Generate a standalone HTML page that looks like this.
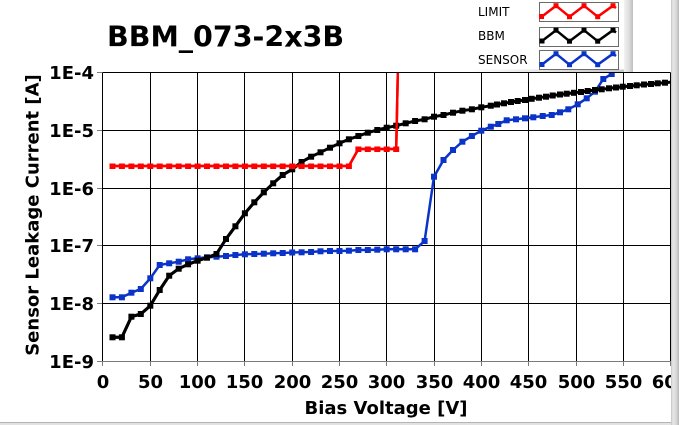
<!DOCTYPE html>
<html><head><meta charset="utf-8"><style>
html,body{margin:0;padding:0;background:#fff;}
body{width:679px;height:425px;overflow:hidden;}
svg{display:block;}
text{font-family:"DejaVu Sans","Liberation Sans",sans-serif;}
</style></head><body>
<svg width="679" height="425" viewBox="0 0 679 425" xmlns="http://www.w3.org/2000/svg">
<defs>
<clipPath id="pc"><rect x="103" y="73" width="568" height="289"/></clipPath>
<linearGradient id="rb" x1="0" x2="1" y1="0" y2="0">
<stop offset="0" stop-color="#c4c4c4"/><stop offset="0.25" stop-color="#e6e6e6"/><stop offset="0.7" stop-color="#d6d6d6"/><stop offset="1" stop-color="#b4b4b4"/>
</linearGradient>
<linearGradient id="ls" x1="0" x2="1" y1="0" y2="0">
<stop offset="0" stop-color="#f2f2f2"/><stop offset="0.6" stop-color="#dcdcdc"/><stop offset="1" stop-color="#bdbdbd"/>
</linearGradient>
<linearGradient id="lb" x1="0" x2="1" y1="0" y2="0">
<stop offset="0" stop-color="#ffffff"/><stop offset="0.5" stop-color="#e0e0e0"/><stop offset="1" stop-color="#c4c4c4"/>
</linearGradient>
</defs>

<!-- title -->
<text x="107" y="46.5" font-size="28.5" font-weight="bold" fill="#000">BBM_073-2x3B</text>

<!-- legend -->
<rect x="470" y="69.5" width="163" height="2.5" fill="url(#lb)"/>
<rect x="624" y="0" width="9" height="72" fill="url(#ls)"/>
<text x="478" y="16" font-size="12" fill="#000">LIMIT</text>
<text x="478" y="40" font-size="12" fill="#000">BBM</text>
<text x="478" y="64" font-size="12" fill="#000">SENSOR</text>
<g fill="#fff" stroke="#6a6a6a" stroke-width="1">
<rect x="539.5" y="2.5" width="79" height="19"/>
<rect x="539.5" y="27.5" width="79" height="19"/>
<rect x="539.5" y="50.5" width="79" height="19"/>
</g>
<g fill="none" stroke-width="2.5" stroke-linejoin="round">
<polyline stroke="#ff0000" points="541.7,16.7 556,5.7 569.5,16.7 584,5.7 597.7,16.7 613,5.7 616,8"/>
<polyline stroke="#000" points="541.7,41.2 556,30.2 569.5,41.2 584,30.2 597.7,41.2 613,30.2 616,32.5"/>
<polyline stroke="#0a33c8" points="541.7,64.7 556,53.7 569.5,64.7 584,53.7 597.7,64.7 613,53.7 616,56"/>
</g>
<g fill="#ff0000"><rect x="539" y="14" width="5" height="5"/><rect x="553.5" y="3.2" width="5" height="5"/><rect x="567" y="14.2" width="5" height="5"/><rect x="581.5" y="3.2" width="5" height="5"/><rect x="595.2" y="14.2" width="5" height="5"/><rect x="610.5" y="3.2" width="5" height="5"/></g>
<g fill="#000"><rect x="539.5" y="38.5" width="5" height="5"/><rect x="553.5" y="27.7" width="5" height="5"/><rect x="567" y="38.7" width="5" height="5"/><rect x="581.5" y="27.7" width="5" height="5"/><rect x="595.2" y="38.7" width="5" height="5"/><rect x="610.5" y="27.7" width="5" height="5"/></g>
<g fill="#0a33c8"><rect x="539.5" y="62" width="5" height="5"/><rect x="553.5" y="51.2" width="5" height="5"/><rect x="567" y="62.2" width="5" height="5"/><rect x="581.5" y="51.2" width="5" height="5"/><rect x="595.2" y="62.2" width="5" height="5"/><rect x="610.5" y="51.2" width="5" height="5"/></g>

<!-- grid -->
<g stroke="#000" stroke-width="1" shape-rendering="crispEdges">
<line x1="102.5" y1="72.5" x2="670.5" y2="72.5"/>
<line x1="102.5" y1="130.5" x2="670.5" y2="130.5"/>
<line x1="102.5" y1="188.5" x2="670.5" y2="188.5"/>
<line x1="102.5" y1="245.5" x2="670.5" y2="245.5"/>
<line x1="102.5" y1="303.5" x2="670.5" y2="303.5"/>
<line x1="102.5" y1="72.5" x2="102.5" y2="361.5"/>
<line x1="150.5" y1="72.5" x2="150.5" y2="361.5"/>
<line x1="197.5" y1="72.5" x2="197.5" y2="361.5"/>
<line x1="244.5" y1="72.5" x2="244.5" y2="361.5"/>
<line x1="292.5" y1="72.5" x2="292.5" y2="361.5"/>
<line x1="339.5" y1="72.5" x2="339.5" y2="361.5"/>
<line x1="386.5" y1="72.5" x2="386.5" y2="361.5"/>
<line x1="434.5" y1="72.5" x2="434.5" y2="361.5"/>
<line x1="481.5" y1="72.5" x2="481.5" y2="361.5"/>
<line x1="528.5" y1="72.5" x2="528.5" y2="361.5"/>
<line x1="576.5" y1="72.5" x2="576.5" y2="361.5"/>
<line x1="623.5" y1="72.5" x2="623.5" y2="361.5"/>
<line x1="670.5" y1="72.5" x2="670.5" y2="361.5"/>
</g>
<g stroke="#7a7a7a" stroke-width="1" shape-rendering="crispEdges">
<line x1="102.5" y1="361.5" x2="670.5" y2="361.5"/>
<line x1="97" y1="72.5" x2="102" y2="72.5"/>
<line x1="97" y1="130.5" x2="102" y2="130.5"/>
<line x1="97" y1="188.5" x2="102" y2="188.5"/>
<line x1="97" y1="245.5" x2="102" y2="245.5"/>
<line x1="97" y1="303.5" x2="102" y2="303.5"/>
<line x1="97" y1="361.5" x2="102" y2="361.5"/>
<line x1="102.5" y1="362" x2="102.5" y2="366"/>
<line x1="150.5" y1="362" x2="150.5" y2="366"/>
<line x1="197.5" y1="362" x2="197.5" y2="366"/>
<line x1="244.5" y1="362" x2="244.5" y2="366"/>
<line x1="292.5" y1="362" x2="292.5" y2="366"/>
<line x1="339.5" y1="362" x2="339.5" y2="366"/>
<line x1="386.5" y1="362" x2="386.5" y2="366"/>
<line x1="434.5" y1="362" x2="434.5" y2="366"/>
<line x1="481.5" y1="362" x2="481.5" y2="366"/>
<line x1="528.5" y1="362" x2="528.5" y2="366"/>
<line x1="576.5" y1="362" x2="576.5" y2="366"/>
<line x1="623.5" y1="362" x2="623.5" y2="366"/>
<line x1="670.5" y1="362" x2="670.5" y2="366"/>
</g>

<!-- y labels -->
<g font-size="18" font-weight="bold" fill="#000" text-anchor="end">
<text x="94" y="79">1E-4</text>
<text x="94" y="137">1E-5</text>
<text x="94" y="195">1E-6</text>
<text x="94" y="252">1E-7</text>
<text x="94" y="310">1E-8</text>
<text x="94" y="368">1E-9</text>
</g>
<!-- x labels -->
<g font-size="18" font-weight="bold" fill="#000" text-anchor="middle">
<text x="103" y="388">0</text>
<text x="150.5" y="388">50</text>
<text x="197.5" y="388">100</text>
<text x="244.5" y="388">150</text>
<text x="292.5" y="388">200</text>
<text x="339.5" y="388">250</text>
<text x="386.5" y="388">300</text>
<text x="434.5" y="388">350</text>
<text x="481.5" y="388">400</text>
<text x="528.5" y="388">450</text>
<text x="576.5" y="388">500</text>
<text x="623.5" y="388">550</text>
<text x="670.5" y="388">600</text>
</g>
<text x="386" y="414" font-size="18" font-weight="bold" fill="#000" text-anchor="middle">Bias Voltage [V]</text>
<text transform="translate(38.5,215) rotate(-90)" font-size="18" font-weight="bold" fill="#000" text-anchor="middle">Sensor Leakage Current [A]</text>

<!-- data -->
<g clip-path="url(#pc)">
<!-- SENSOR -->
<polyline fill="none" stroke="#0a33c8" stroke-width="2.5" stroke-linejoin="round" points="112.5,297.3 121.9,297.3 131.4,292.7 140.8,289 150.3,278.3 159.7,265 169.2,263.3 178.7,261.7 188.1,259.3 197.6,258.3 207,257.3 216.5,256.7 226,256 235.4,255 244.9,254.3 254.3,254 263.8,253.7 273.2,253.3 282.7,253 292.2,252.5 301.6,252.3 311.1,252 320.5,251.3 330,251 339.5,251 348.9,250.7 358.4,250 367.8,250 377.3,249.7 386.7,249.3 396.2,249.3 405.7,249.3 415.1,249.3 424.6,241 434,176.7 443.5,160 453,150 462.4,141.7 471.9,136 481.3,130.7 490.8,126.7 498.3,124 506.7,120.3 516,119.3 525,118.3 533.3,117.3 542.7,116 551.7,115 560,112.3 568.3,109.3 577.7,104.3 586.7,98.3 595,91.7 603.3,79 611.7,74 620,66"/>
<g fill="#0a33c8" id="bm"></g>
<!-- BBM -->
<polyline fill="none" stroke="#000" stroke-width="3" stroke-linejoin="round" points="112.5,337.3 121.9,337.3 131.4,316.7 140.8,314 150.3,305.7 159.7,290 169.2,275.7 178.7,268.7 188.1,264.3 197.6,260.7 207,257.7 216.5,254 226,239 235.4,226.3 244.9,213.3 254.3,202.3 263.8,192.3 273.2,183.3 282.7,175 292.2,169.3 301.6,162 311.1,156.7 320.5,152.3 330,147.7 339.5,143.3 348.9,139.3 358.4,136 367.8,132.7 377.3,130 386.7,127.7 396.2,125.7 405.7,123.3 415.1,121 424.6,119.3 434,116.7 443.5,115 453,112.7 462.4,110.7 471.9,109.3 481.3,107.3 490.8,105.7 497,104.5 504,103.3 511,102 517.7,101 525,100 531.7,98.8 539,97.7 546,96.7 552.7,95.5 560,94.5 566.7,93.7 574,92.8 581,92 587.7,91 595,90 601.7,89.3 609,88.3 616,87.5 622.7,86.7 630,86 636.7,85.3 644,84.5 651,84 657.7,83.3 665,82.7 672,82"/>
<!-- LIMIT -->
<polyline fill="none" stroke="#ff0000" stroke-width="2.5" stroke-linejoin="round" points="112.5,166 348.9,166 358.4,149 396.2,149 405.7,-300"/>
</g>
<g clip-path="url(#pc)">
<g fill="#0a33c8">
<rect x="109.5" y="294.3" width="6" height="6"/><rect x="118.9" y="294.3" width="6" height="6"/><rect x="128.4" y="289.7" width="6" height="6"/><rect x="137.8" y="286" width="6" height="6"/><rect x="147.3" y="275.3" width="6" height="6"/><rect x="156.7" y="262" width="6" height="6"/><rect x="166.2" y="260.3" width="6" height="6"/><rect x="175.7" y="258.7" width="6" height="6"/><rect x="185.1" y="256.3" width="6" height="6"/><rect x="194.6" y="255.3" width="6" height="6"/><rect x="204" y="254.3" width="6" height="6"/><rect x="213.5" y="253.7" width="6" height="6"/><rect x="223" y="253" width="6" height="6"/><rect x="232.4" y="252" width="6" height="6"/><rect x="241.9" y="251.3" width="6" height="6"/><rect x="251.3" y="251" width="6" height="6"/><rect x="260.8" y="250.7" width="6" height="6"/><rect x="270.2" y="250.3" width="6" height="6"/><rect x="279.7" y="250" width="6" height="6"/><rect x="289.2" y="249.5" width="6" height="6"/><rect x="298.6" y="249.3" width="6" height="6"/><rect x="308.1" y="249" width="6" height="6"/><rect x="317.5" y="248.3" width="6" height="6"/><rect x="327" y="248" width="6" height="6"/><rect x="336.5" y="248" width="6" height="6"/><rect x="345.9" y="247.7" width="6" height="6"/><rect x="355.4" y="247" width="6" height="6"/><rect x="364.8" y="247" width="6" height="6"/><rect x="374.3" y="246.7" width="6" height="6"/><rect x="383.7" y="246.3" width="6" height="6"/><rect x="393.2" y="246.3" width="6" height="6"/><rect x="402.7" y="246.3" width="6" height="6"/><rect x="412.1" y="246.3" width="6" height="6"/><rect x="421.6" y="238" width="6" height="6"/><rect x="431" y="173.7" width="6" height="6"/><rect x="440.5" y="157" width="6" height="6"/><rect x="450" y="147" width="6" height="6"/><rect x="459.4" y="138.7" width="6" height="6"/><rect x="468.9" y="133" width="6" height="6"/><rect x="478.3" y="127.7" width="6" height="6"/><rect x="487.8" y="123.7" width="6" height="6"/><rect x="495.3" y="121" width="6" height="6"/><rect x="503.7" y="117.3" width="6" height="6"/><rect x="513" y="116.3" width="6" height="6"/><rect x="522" y="115.3" width="6" height="6"/><rect x="530.3" y="114.3" width="6" height="6"/><rect x="539.7" y="113" width="6" height="6"/><rect x="548.7" y="112" width="6" height="6"/><rect x="557" y="109.3" width="6" height="6"/><rect x="565.3" y="106.3" width="6" height="6"/><rect x="574.7" y="101.3" width="6" height="6"/><rect x="583.7" y="95.3" width="6" height="6"/><rect x="592" y="88.7" width="6" height="6"/><rect x="600.3" y="76" width="6" height="6"/><rect x="608.7" y="71" width="6" height="6"/>
</g>
</g>
<!-- redraw black and red on top of blue markers -->
<g clip-path="url(#pc)">
<polyline fill="none" stroke="#000" stroke-width="3" stroke-linejoin="round" points="112.5,337.3 121.9,337.3 131.4,316.7 140.8,314 150.3,305.7 159.7,290 169.2,275.7 178.7,268.7 188.1,264.3 197.6,260.7 207,257.7 216.5,254 226,239 235.4,226.3 244.9,213.3 254.3,202.3 263.8,192.3 273.2,183.3 282.7,175 292.2,169.3 301.6,162 311.1,156.7"/>
<g fill="#000">
<rect x="109.5" y="334.3" width="6" height="6"/><rect x="118.9" y="334.3" width="6" height="6"/><rect x="128.4" y="313.7" width="6" height="6"/><rect x="137.8" y="311" width="6" height="6"/><rect x="147.3" y="302.7" width="6" height="6"/><rect x="156.7" y="287" width="6" height="6"/><rect x="166.2" y="272.7" width="6" height="6"/><rect x="175.7" y="265.7" width="6" height="6"/><rect x="185.1" y="261.3" width="6" height="6"/><rect x="194.6" y="257.7" width="6" height="6"/><rect x="204" y="254.7" width="6" height="6"/><rect x="213.5" y="251" width="6" height="6"/><rect x="223" y="236" width="6" height="6"/><rect x="232.4" y="223.3" width="6" height="6"/><rect x="241.9" y="210.3" width="6" height="6"/><rect x="251.3" y="199.3" width="6" height="6"/><rect x="260.8" y="189.3" width="6" height="6"/><rect x="270.2" y="180.3" width="6" height="6"/><rect x="279.7" y="172" width="6" height="6"/><rect x="289.2" y="166.3" width="6" height="6"/><rect x="298.6" y="159" width="6" height="6"/><rect x="308.1" y="153.7" width="6" height="6"/><rect x="317.5" y="149.3" width="6" height="6"/><rect x="327" y="144.7" width="6" height="6"/><rect x="336.5" y="140.3" width="6" height="6"/><rect x="345.9" y="136.3" width="6" height="6"/><rect x="355.4" y="133" width="6" height="6"/><rect x="364.8" y="129.7" width="6" height="6"/><rect x="374.3" y="127" width="6" height="6"/><rect x="383.7" y="124.7" width="6" height="6"/><rect x="393.2" y="122.7" width="6" height="6"/><rect x="402.7" y="120.3" width="6" height="6"/><rect x="412.1" y="118" width="6" height="6"/><rect x="421.6" y="116.3" width="6" height="6"/><rect x="431" y="113.7" width="6" height="6"/><rect x="440.5" y="112" width="6" height="6"/><rect x="450" y="109.7" width="6" height="6"/><rect x="459.4" y="107.7" width="6" height="6"/><rect x="468.9" y="106.3" width="6" height="6"/><rect x="478.3" y="104.3" width="6" height="6"/><rect x="487.8" y="102.7" width="6" height="6"/><rect x="494" y="101.5" width="6" height="6"/><rect x="501" y="100.3" width="6" height="6"/><rect x="508" y="99" width="6" height="6"/><rect x="514.7" y="98" width="6" height="6"/><rect x="522" y="97" width="6" height="6"/><rect x="528.7" y="95.8" width="6" height="6"/><rect x="536" y="94.7" width="6" height="6"/><rect x="543" y="93.7" width="6" height="6"/><rect x="549.7" y="92.5" width="6" height="6"/><rect x="557" y="91.5" width="6" height="6"/><rect x="563.7" y="90.7" width="6" height="6"/><rect x="571" y="89.8" width="6" height="6"/><rect x="578" y="89" width="6" height="6"/><rect x="584.7" y="88" width="6" height="6"/><rect x="592" y="87" width="6" height="6"/><rect x="598.7" y="86.3" width="6" height="6"/><rect x="606" y="85.3" width="6" height="6"/><rect x="613" y="84.5" width="6" height="6"/><rect x="619.7" y="83.7" width="6" height="6"/><rect x="627" y="83" width="6" height="6"/><rect x="633.7" y="82.3" width="6" height="6"/><rect x="641" y="81.5" width="6" height="6"/><rect x="648" y="81" width="6" height="6"/><rect x="654.7" y="80.3" width="6" height="6"/><rect x="662" y="79.7" width="6" height="6"/>
</g>
<polyline fill="none" stroke="#ff0000" stroke-width="2.5" stroke-linejoin="round" points="112.5,166 348.9,166 358.4,149 396.2,149 405.7,-300"/>
<g fill="#ff0000">
<rect x="109.5" y="163.5" width="6" height="5.5"/><rect x="118.9" y="163.5" width="6" height="5.5"/><rect x="128.4" y="163.5" width="6" height="5.5"/><rect x="137.8" y="163.5" width="6" height="5.5"/><rect x="147.3" y="163.5" width="6" height="5.5"/><rect x="156.7" y="163.5" width="6" height="5.5"/><rect x="166.2" y="163.5" width="6" height="5.5"/><rect x="175.7" y="163.5" width="6" height="5.5"/><rect x="185.1" y="163.5" width="6" height="5.5"/><rect x="194.6" y="163.5" width="6" height="5.5"/><rect x="204" y="163.5" width="6" height="5.5"/><rect x="213.5" y="163.5" width="6" height="5.5"/><rect x="223" y="163.5" width="6" height="5.5"/><rect x="232.4" y="163.5" width="6" height="5.5"/><rect x="241.9" y="163.5" width="6" height="5.5"/><rect x="251.3" y="163.5" width="6" height="5.5"/><rect x="260.8" y="163.5" width="6" height="5.5"/><rect x="270.2" y="163.5" width="6" height="5.5"/><rect x="279.7" y="163.5" width="6" height="5.5"/><rect x="289.2" y="163.5" width="6" height="5.5"/><rect x="298.6" y="163.5" width="6" height="5.5"/><rect x="308.1" y="163.5" width="6" height="5.5"/><rect x="317.5" y="163.5" width="6" height="5.5"/><rect x="327" y="163.5" width="6" height="5.5"/><rect x="336.5" y="163.5" width="6" height="5.5"/><rect x="345.9" y="163.5" width="6" height="5.5"/><rect x="355.4" y="146.5" width="6" height="5.5"/><rect x="364.8" y="146.5" width="6" height="5.5"/><rect x="374.3" y="146.5" width="6" height="5.5"/><rect x="383.7" y="146.5" width="6" height="5.5"/><rect x="393.2" y="146.5" width="6" height="5.5"/>
</g>
</g>

<!-- window borders -->
<rect x="671" y="0" width="8" height="425" fill="url(#rb)"/>
<rect x="0" y="422" width="671" height="1" fill="#b4b4b4"/>
<rect x="0" y="423" width="671" height="2" fill="#e2e2e2"/>
</svg>
</body></html>
